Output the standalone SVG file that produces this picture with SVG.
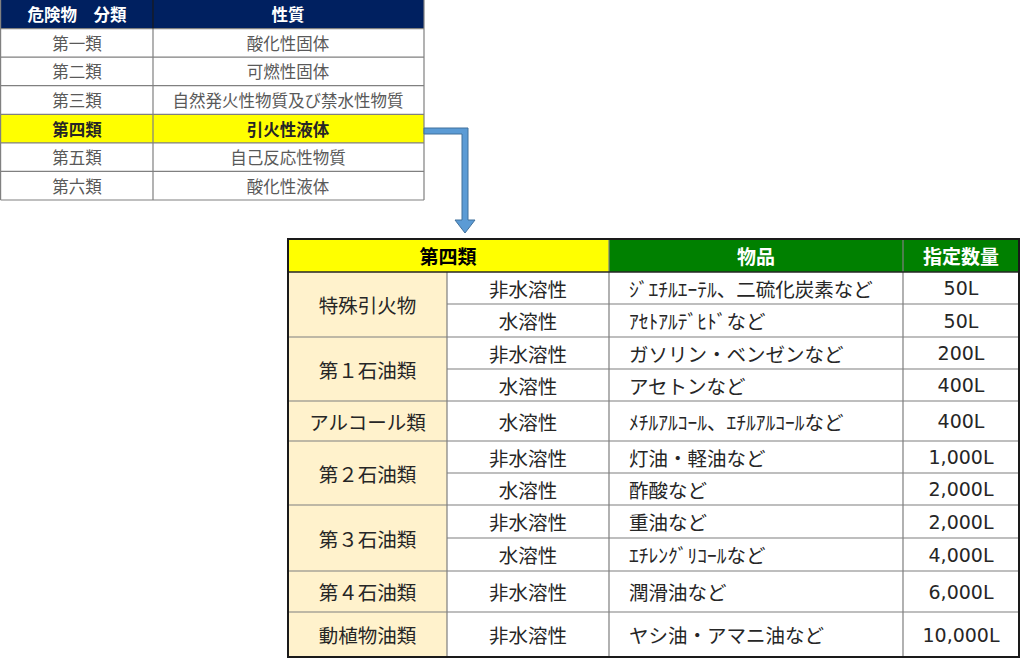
<svg xmlns="http://www.w3.org/2000/svg" width="1024" height="660" viewBox="0 0 1024 660">
<style>
.jp{font-family:"Noto Sans CJK JP","Noto Sans",sans-serif;dominant-baseline:central;text-anchor:middle}
.t1{font-size:16.5px;fill:#595959}
.t1h{font-size:16.5px;fill:#ffffff;font-weight:bold}
.t1y{font-size:16.5px;fill:#262626;font-weight:bold}
.t2{font-size:19.5px;fill:#262626}
.t2h{font-size:19px;font-weight:bold}
.left{text-anchor:start}
.num{font-family:"DejaVu Sans","Noto Sans CJK JP",sans-serif;font-size:19px;fill:#262626;dominant-baseline:central;text-anchor:middle}
.g1{stroke:#808080;stroke-width:1.2;fill:none}
.g2{stroke:#7f7f7f;stroke-width:1.2;fill:none}
.dk{stroke:#262626;stroke-width:1.5;fill:none}
</style>

<g id="classTable">
  <rect x="0" y="0" width="424" height="28.6" fill="#002060"/>
  <rect x="0" y="114.3" width="424" height="28.6" fill="#ffff00"/>
  <path class="g1" d="M0.6,28.6H424 M0.6,57.1H424 M0.6,85.7H424 M0.6,114.3H424 M0.6,142.9H424 M0.6,171.4H424 M0.6,200H424 M0.6,0V200 M424,0V200 M153,28.6V200"/>
  <path d="M153,0V28.6" stroke="#1a1a1a" stroke-width="1.2"/>
  <text class="jp t1h" x="77" y="14.3">危険物　分類</text>
  <text class="jp t1h" x="288" y="14.3">性質</text>
  <text class="jp t1" x="77" y="42.9">第一類</text>
  <text class="jp t1" x="288" y="42.9">酸化性固体</text>
  <text class="jp t1" x="77" y="71.4">第二類</text>
  <text class="jp t1" x="288" y="71.4">可燃性固体</text>
  <text class="jp t1" x="77" y="100">第三類</text>
  <text class="jp t1" x="288" y="100">自然発火性物質及び禁水性物質</text>
  <text class="jp t1y" x="77" y="128.6">第四類</text>
  <text class="jp t1y" x="288" y="128.6">引火性液体</text>
  <text class="jp t1" x="77" y="157.1">第五類</text>
  <text class="jp t1" x="288" y="157.1">自己反応性物質</text>
  <text class="jp t1" x="77" y="185.7">第六類</text>
  <text class="jp t1" x="288" y="185.7">酸化性液体</text>
</g>

<g id="connectors">
  <polygon points="424,128 468,128 468,220 475,220 465,233 455,220 462,220 462,134 424,134" fill="#5b9bd5" stroke="#41719c" stroke-width="1"/>
</g>

<g id="class4Table">
  <rect x="288" y="239" width="321" height="33" fill="#ffff00"/>
  <rect x="609" y="239" width="410" height="33" fill="#008000"/>
  <rect x="288" y="272" width="159" height="385" fill="#fff2cc"/>
  <rect x="447" y="272" width="572" height="385" fill="#ffffff"/>
  <path class="g2" d="M447,304H1019 M288,337H1019 M447,369H1019 M288,401H1019 M288,441H1019 M447,473H1019 M288,505H1019 M447,538H1019 M288,571H1019 M288,612H1019 M447,272V657 M609,239V657 M903,239V657"/>
  <path class="dk" d="M288,272H1019"/>
  <rect x="288" y="239" width="731" height="418" fill="none" stroke="#1a1a1a" stroke-width="2"/>

  <text class="jp t2h" x="448" y="255.5" fill="#000000">第四類</text>
  <text class="jp t2h" x="756" y="255.5" fill="#ffffff">物品</text>
  <text class="jp t2h" x="961" y="255.5" fill="#ffffff">指定数量</text>

  <text class="jp t2" x="367.5" y="304.5">特殊引火物</text>
  <text class="jp t2" x="367.5" y="369">第１石油類</text>
  <text class="jp t2" x="367.5" y="421">アルコール類</text>
  <text class="jp t2" x="367.5" y="473">第２石油類</text>
  <text class="jp t2" x="367.5" y="538">第３石油類</text>
  <text class="jp t2" x="367.5" y="591.5">第４石油類</text>
  <text class="jp t2" x="367.5" y="634.5">動植物油類</text>

  <text class="jp t2" x="528" y="288">非水溶性</text>
  <text class="jp t2" x="528" y="320.5">水溶性</text>
  <text class="jp t2" x="528" y="353">非水溶性</text>
  <text class="jp t2" x="528" y="385">水溶性</text>
  <text class="jp t2" x="528" y="421">水溶性</text>
  <text class="jp t2" x="528" y="457">非水溶性</text>
  <text class="jp t2" x="528" y="489">水溶性</text>
  <text class="jp t2" x="528" y="521.5">非水溶性</text>
  <text class="jp t2" x="528" y="554.5">水溶性</text>
  <text class="jp t2" x="528" y="591.5">非水溶性</text>
  <text class="jp t2" x="528" y="634.5">非水溶性</text>

  <text class="jp t2 left" x="629" y="288">ｼﾞｴﾁﾙｴｰﾃﾙ、二硫化炭素など</text>
  <text class="jp t2 left" x="629" y="320.5">ｱｾﾄｱﾙﾃﾞﾋﾄﾞなど</text>
  <text class="jp t2 left" x="629" y="353">ガソリン・ベンゼンなど</text>
  <text class="jp t2 left" x="629" y="385">アセトンなど</text>
  <text class="jp t2 left" x="629" y="421">ﾒﾁﾙｱﾙｺｰﾙ、ｴﾁﾙｱﾙｺｰﾙなど</text>
  <text class="jp t2 left" x="629" y="457">灯油・軽油など</text>
  <text class="jp t2 left" x="629" y="489">酢酸など</text>
  <text class="jp t2 left" x="629" y="521.5">重油など</text>
  <text class="jp t2 left" x="629" y="554.5">ｴﾁﾚﾝｸﾞﾘｺｰﾙなど</text>
  <text class="jp t2 left" x="629" y="591.5">潤滑油など</text>
  <text class="jp t2 left" x="629" y="634.5">ヤシ油・アマニ油など</text>

  <text class="num" x="961" y="288">50L</text>
  <text class="num" x="961" y="320.5">50L</text>
  <text class="num" x="961" y="353">200L</text>
  <text class="num" x="961" y="385">400L</text>
  <text class="num" x="961" y="421">400L</text>
  <text class="num" x="961" y="457">1,000L</text>
  <text class="num" x="961" y="489">2,000L</text>
  <text class="num" x="961" y="521.5">2,000L</text>
  <text class="num" x="961" y="554.5">4,000L</text>
  <text class="num" x="961" y="591.5">6,000L</text>
  <text class="num" x="961" y="634.5">10,000L</text>
</g>
</svg>
